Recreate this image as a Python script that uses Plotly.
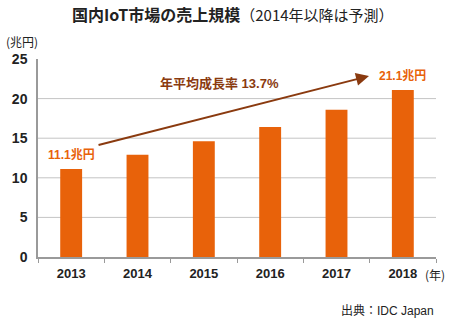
import plotly.graph_objects as go

years = ["2013", "2014", "2015", "2016", "2017", "2018"]
sales = [11.1, 12.9, 14.6, 16.4, 18.6, 21.1]  # 兆円
y_ticks = [0, 5, 10, 15, 20, 25]

BAR = "#e8620a"
BROWN = "#8a3a0f"
TEXT = "#222222"
GRID = "#c4c4c4"
JP = "Noto Sans CJK JP"
NUM = "Liberation Sans, Noto Sans CJK JP"

fig = go.Figure(go.Bar(
    x=years, y=sales, marker=dict(color=BAR, line=dict(width=0)),
    hoverinfo="skip",
))

fig.update_layout(
    width=450, height=324,
    margin=dict(l=36, r=14, t=59, b=67),
    paper_bgcolor="white", plot_bgcolor="white",
    showlegend=False,
    bargap=0.67,
    xaxis=dict(
        type="category", range=[-0.5, 5.5],
        showline=True, linecolor="#9a9a9a", linewidth=1.5,
        ticks="outside", tickson="boundaries", ticklen=4, tickcolor="#9a9a9a",
        ticklabelstandoff=4,
        tickfont=dict(family=NUM, size=13, color=TEXT, weight="bold"),
        showgrid=False,
    ),
    yaxis=dict(
        range=[0, 25], tickvals=y_ticks,
        showline=True, linecolor="#9a9a9a", linewidth=1.5,
        showgrid=False, zeroline=False, ticks="", ticklabelstandoff=6,
        tickfont=dict(family=NUM, size=14, color=TEXT, weight="bold"),
    ),
)

# horizontal guides at the inner ticks only (none along the top edge)
for v in y_ticks[1:-1]:
    fig.add_shape(type="line", xref="paper", yref="y", x0=0, x1=1, y0=v, y1=v,
                  line=dict(color=GRID, width=1), layer="below")

# title
fig.add_annotation(xref="paper", yref="paper", x=0.49, y=1, yanchor="middle",
                   yshift=45, showarrow=False,
                   text="<b>国内IoT市場の売上規模</b><span style='font-size:15px'>（2014年以降は予測）</span>",
                   font=dict(family=JP, size=16, color=TEXT))

# value labels on first and last bars
for i in (0, len(years) - 1):
    fig.add_annotation(xref="x", yref="y", x=i, y=sales[i], yanchor="middle",
                       yshift=14, showarrow=False, text=f"<b>{sales[i]}兆円</b>",
                       font=dict(family=NUM, size=12, color=BAR))

# growth rate arrow and label
fig.add_annotation(xref="x", yref="y", x=4.49, y=22.85, ax=0.39, ay=14.1,
                   axref="x", ayref="y", text="", showarrow=True,
                   arrowhead=2, arrowsize=1.3, arrowwidth=2, arrowcolor=BROWN)
fig.add_annotation(xref="x", yref="y", x=2.24, y=21.95, yanchor="middle",
                   showarrow=False, text="<b>年平均成長率 13.7%</b>",
                   font=dict(family=NUM, size=13, color=BROWN))

# unit labels and source
fig.add_annotation(xref="paper", yref="paper", x=0, y=1, xanchor="left",
                   yanchor="middle", xshift=-34, yshift=18, showarrow=False,
                   text="(兆円)", font=dict(family=JP, size=12, color=TEXT))
fig.add_annotation(xref="paper", yref="paper", x=1, y=0, xanchor="right",
                   yanchor="middle", xshift=11, yshift=-17, showarrow=False,
                   text="(年)", font=dict(family=JP, size=12, color=TEXT))
fig.add_annotation(xref="paper", yref="paper", x=1, y=0, xanchor="right",
                   yanchor="middle", yshift=-54, showarrow=False,
                   text="出典：IDC Japan",
                   font=dict(family=NUM, size=12, color=TEXT))

fig.write_html("out.html")
